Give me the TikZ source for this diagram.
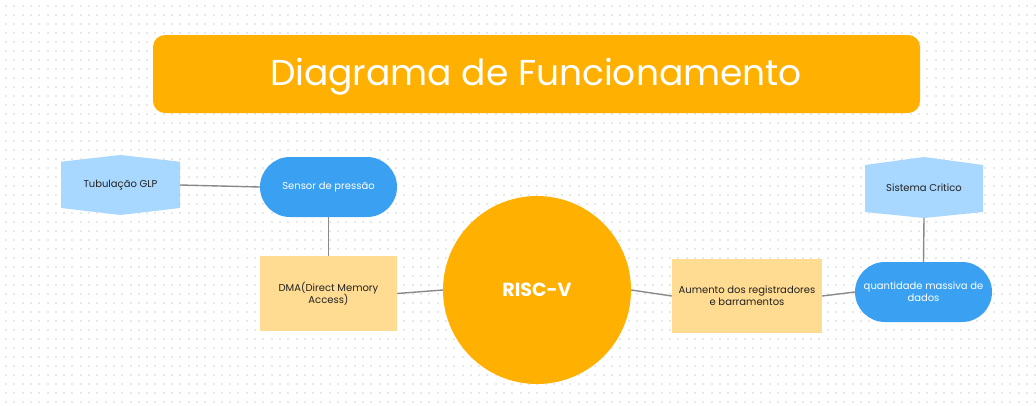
\documentclass[tikz,border=0pt]{standalone}
\usepackage{fontspec}
\setmainfont{Poppins}
\usetikzlibrary{shapes.geometric,shapes.misc}
\definecolor{titleorange}{HTML}{FFB000}
\definecolor{lightblue}{HTML}{A8D8FF}
\definecolor{midblue}{HTML}{3AA0F2}
\definecolor{lightorange}{HTML}{FFDC91}
\definecolor{linegray}{HTML}{8A8A8A}
\definecolor{dotgray}{HTML}{E8E8E8}
\definecolor{darktext}{HTML}{222222}
\tikzset{
  hexbox/.style={fill=lightblue, draw=none, inner sep=0pt, text=darktext, font=\fontsize{10}{12}\selectfont},
  pillbox/.style={rounded rectangle, fill=midblue, draw=none, minimum width=137pt, minimum height=60pt, text=white, align=center, inner sep=0pt, font=\fontsize{10}{12}\selectfont},
  rectbox/.style={rectangle, fill=lightorange, draw=none, align=center, text=darktext, inner sep=0pt, font=\fontsize{10}{12}\selectfont},
  conn/.style={draw=linegray, line width=1.4pt},
}
\begin{document}
\begin{tikzpicture}[x=1pt,y=-1pt]
\useasboundingbox (0,0) rectangle (1036,405);
\fill[white] (0,0) rectangle (1036,405);
% dotted grid
\foreach \i in {0,...,124} {
  \foreach \j in {0,...,44} {
    \fill[dotgray] ({6+\i*8.3-1},{6+\j*9-1}) rectangle ++(2,2);
  }
}
% title
\node[fill=titleorange, rounded corners=12pt, minimum width=767pt, minimum height=78pt, inner sep=0pt] (title) at (536.5,74) {};
\node[text=white, font=\fontsize{36}{42}\selectfont, inner sep=0pt] (titletext) at (536,77) {Diagrama de Funcionamento};
% hexagons
\fill[lightblue] (61,161.7) -- (120.5,155) -- (180,161.7) -- (180,208) -- (120.5,215) -- (61,208) -- cycle;
\node[hexbox] (tub) at (120.5,185) {Tubulação GLP};
\fill[lightblue] (865,165) -- (924,157) -- (983,165) -- (983,212) -- (924,218) -- (865,212) -- cycle;
\node[hexbox] (sis) at (924,187.5) {Sistema Critico};
\coordinate (tubE) at (180,185);
\coordinate (sisS) at (924,218);
% pills
\node[pillbox] (sensor) at (328.5,187) {Sensor de pressão};
\node[pillbox] (quant) at (923.5,292) {quantidade massiva de\\dados};
% rectangles
\node[rectbox, minimum width=137pt, minimum height=75pt] (dma) at (328.5,293.5) {DMA(Direct Memory\\Access)};
\node[rectbox, minimum width=150pt, minimum height=74pt] (aum) at (747,296) {Aumento dos registradores\\e barramentos};
% circle
\node[circle, fill=titleorange, minimum size=188pt, inner sep=0pt, text=white, font=\fontsize{19}{22}\selectfont\bfseries] (risc) at (537,290) {RISC-V};
% connectors
\draw[conn] (tubE) -- (sensor.west);
\draw[conn] (sensor.south) -- (dma.north);
\draw[conn] (dma.east) -- (risc.west);
\draw[conn] (risc.east) -- (aum.west);
\draw[conn] (aum.east) -- (quant.west);
\draw[conn] (sisS) -- (quant.north);
\end{tikzpicture}
\end{document}
